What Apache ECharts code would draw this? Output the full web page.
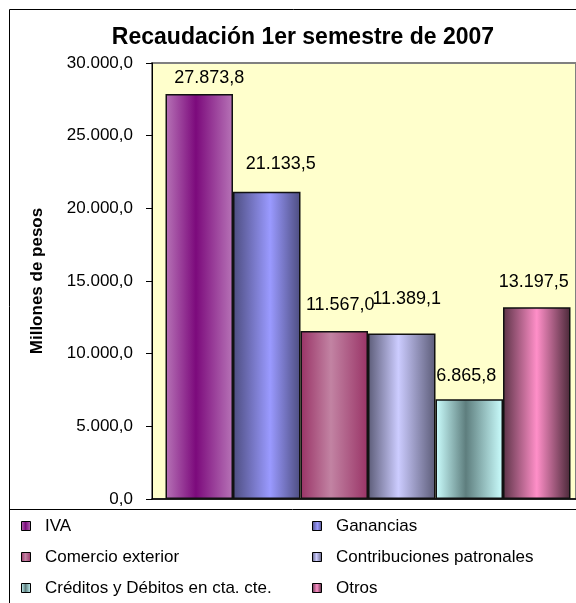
<!DOCTYPE html>
<html>
<head>
<meta charset="utf-8">
<script src="https://cdn.jsdelivr.net/npm/echarts@6/dist/echarts.min.js"></script>
<style>
  html, body { margin: 0; padding: 0; background: #fff; }
  #chart { width: 576px; height: 603px; }
</style>
</head>
<body>
<div id="chart"></div>
<script>
// data
const categories = ['IVA', 'Ganancias', 'Comercio exterior', 'Contribuciones patronales', 'Créditos y Débitos en cta. cte.', 'Otros']
const values = [27873.8, 21133.5, 11567.0, 11389.1, 6865.8, 13197.5]
const yTicks = { min: 0, max: 30000, interval: 5000 }

// horizontal gradient per bar: [edgeLeft, middle, edgeRight, middleStop]
const barColors = [
  ['#B774B7', '#7C0A7C', '#B774B7', 0.45],
  ['#4D4D80', '#9A9AFF', '#4D4D80', 0.55],
  ['#993366', '#C283A3', '#993366', 0.45],
  ['#5C5C78', '#CCCCFF', '#5C5C78', 0.45],
  ['#CCFFFF', '#5E7E7E', '#CCFFFF', 0.45],
  ['#5C3347', '#FF8FC8', '#4A2838', 0.5]
]
// small nudges of the value labels, as placed in the reference
const labelOffsets = [[10, -2], [14, -14], [6, -12], [5, -20], [-3, -9], [-3, -11]]

// 27873.8 -> "27.873,8"
const fmt = v => {
  const parts = v.toFixed(1).split('.')
  return parts[0].replace(/\B(?=(\d{3})+(?!\d))/g, '.') + ',' + parts[1]
}

const grad = c => new echarts.graphic.LinearGradient(0, 0, 1, 0, [
  { offset: 0, color: c[0] },
  { offset: c[3], color: c[1] },
  { offset: 1, color: c[2] }
])

const chart = echarts.init(document.getElementById('chart'))

const series = categories.map((name, i) => ({
  name: name,
  type: 'bar',
  data: [values[i]],
  barWidth: 67.5,
  barGap: '0%',
  itemStyle: {
    color: grad(barColors[i]),
    borderColor: '#111',
    borderWidth: 1.5
  },
  label: {
    show: true,
    position: 'top',
    distance: 5,
    offset: labelOffsets[i],
    formatter: p => fmt(p.value),
    color: '#000',
    fontFamily: 'Liberation Sans',
    fontSize: 18
  },
  emphasis: { disabled: true }
}))

// empty spacer so the bar block sits a little right of centre, like the original
series.unshift({
  name: 'spacer',
  type: 'bar',
  data: [null],
  barWidth: 8,
  barGap: '0%',
  silent: true
})

const legendCommon = {
  orient: 'vertical',
  top: 516,
  padding: 0,
  itemGap: 11,
  itemWidth: 9,
  itemHeight: 9,
  icon: 'rect',
  selectedMode: false,
  itemStyle: { borderColor: '#000', borderWidth: 1 },
  textStyle: {
    fontFamily: 'Liberation Sans',
    fontSize: 17,
    color: '#000',
    lineHeight: 20
  },
  formatter: n => '  ' + n
}

chart.setOption({
  animation: false,
  backgroundColor: '#fff',
  title: {
    text: 'Recaudación 1er semestre de 2007',
    left: 298,
    textAlign: 'center',
    top: 21,
    textStyle: {
      fontFamily: 'Liberation Sans',
      fontWeight: 'bold',
      fontSize: 23,
      color: '#000'
    }
  },
  legend: [
    Object.assign({ left: 21, data: [categories[0], categories[2], categories[4]] }, legendCommon),
    Object.assign({ left: 312, data: [categories[1], categories[3], categories[5]] }, legendCommon)
  ],
  grid: {
    left: 152,
    right: 0,
    top: 63,
    bottom: 104,
    show: true,
    backgroundColor: '#FFFFCC',
    borderColor: '#808080',
    borderWidth: 2
  },
  xAxis: {
    type: 'category',
    data: ['1er semestre 2007'],
    axisLine: { show: true, lineStyle: { color: '#000', width: 1.5 } },
    axisTick: { show: false },
    axisLabel: { show: false },
    splitLine: { show: false }
  },
  yAxis: {
    type: 'value',
    min: yTicks.min,
    max: yTicks.max,
    interval: yTicks.interval,
    name: 'Millones de pesos',
    nameLocation: 'middle',
    nameGap: 106,
    nameTextStyle: {
      fontFamily: 'Liberation Sans',
      fontWeight: 'bold',
      fontSize: 17,
      color: '#000'
    },
    axisLine: { show: true, lineStyle: { color: '#000', width: 1 } },
    axisTick: { show: true, length: 6, lineStyle: { color: '#000' } },
    axisLabel: {
      margin: 19,
      formatter: v => fmt(v),
      fontFamily: 'Liberation Sans',
      fontSize: 17,
      color: '#000'
    },
    splitLine: { show: false }
  },
  graphic: [
    // outer chart frame (runs off the right and bottom edges)
    {
      type: 'rect',
      shape: { x: 9.5, y: 9.5, width: 620, height: 640 },
      style: { fill: null, stroke: '#000', lineWidth: 1 },
      z: 100
    },
    // legend box top edge
    {
      type: 'line',
      shape: { x1: 9, y1: 509.5, x2: 576, y2: 509.5 },
      style: { stroke: '#000', lineWidth: 1 },
      z: 100
    }
  ],
  series: series
})
</script>
</body>
</html>
